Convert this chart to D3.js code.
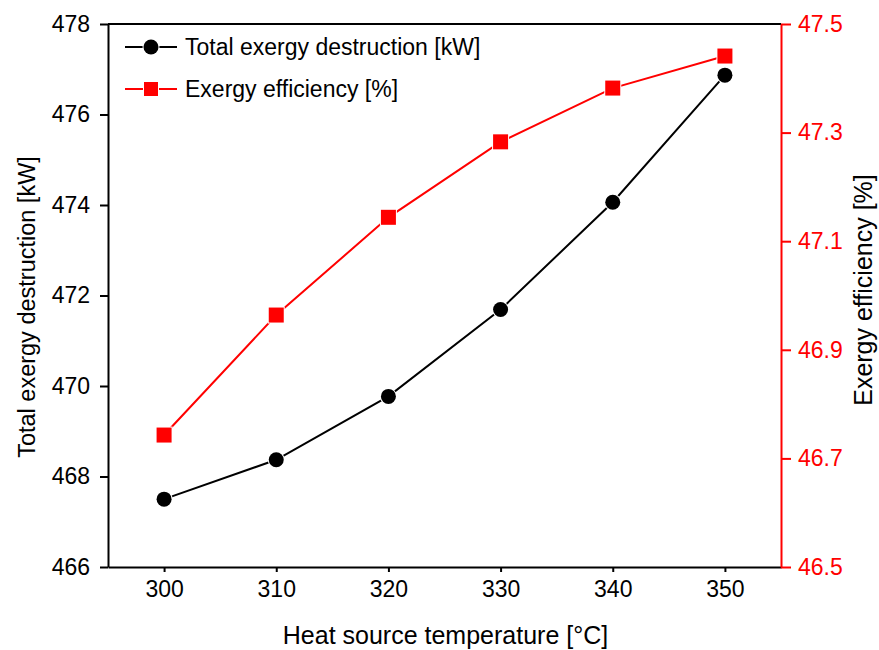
<!DOCTYPE html>
<html>
<head>
<meta charset="utf-8">
<script src="https://cdn.jsdelivr.net/npm/d3@7/dist/d3.min.js"></script>
<style>
  body { margin: 0; background: #fff; }
  svg { font-family: Arial, "Liberation Sans", sans-serif; }
</style>
</head>
<body>
<script>
// data
var temps = [300, 310, 320, 330, 340, 350]
var destruction = [467.50, 468.37, 469.77, 471.69, 474.06, 476.87]
var efficiency = [46.743, 46.964, 47.144, 47.283, 47.382, 47.441]
var leftTicks = [466, 468, 470, 472, 474, 476, 478]
var rightTicks = [46.5, 46.7, 46.9, 47.1, 47.3, 47.5]

var W = 879, H = 650
var m = {left: 108, right: 98, top: 24, bottom: 83}

var svg = d3.select('body').append('svg')
  .attr('width', W)
  .attr('height', H)

var x = d3.scaleLinear().domain([295, 355]).range([m.left, W - m.right])
var yL = d3.scaleLinear().domain([466, 478]).range([H - m.bottom, m.top])
var yR = d3.scaleLinear().domain([46.5, 47.5]).range([H - m.bottom, m.top])

// frame top
svg.append('line')
  .attr('x1', m.left).attr('x2', W - m.right)
  .attr('y1', m.top).attr('y2', m.top)
  .attr('stroke', '#000').attr('stroke-width', 2)

var gx = svg.append('g')
  .attr('transform', 'translate(0,' + (H - m.bottom) + ')')
  .call(d3.axisBottom(x).tickValues(temps).tickSize(5).tickPadding(9).tickSizeOuter(0))
var gl = svg.append('g')
  .attr('transform', 'translate(' + m.left + ',0)')
  .call(d3.axisLeft(yL).tickValues(leftTicks).tickSize(8).tickPadding(10).tickSizeOuter(0))
var gr = svg.append('g')
  .attr('transform', 'translate(' + (W - m.right) + ',0)')
  .call(d3.axisRight(yR).tickValues(rightTicks).tickFormat(d3.format('.1f')).tickSize(10).tickPadding(7).tickSizeOuter(0))

;[gx, gl].forEach(function(g) {
  g.selectAll('path, line').attr('stroke', '#000').attr('stroke-width', 2)
  g.selectAll('text').attr('fill', '#000').style('font-size', '23px')
})
gr.selectAll('path, line').attr('stroke', '#ff0000').attr('stroke-width', 2)
gr.selectAll('text').attr('fill', '#ff0000').style('font-size', '23px')
gr.select('path.domain').raise()

// axis titles
svg.append('text')
  .attr('x', (m.left + W - m.right) / 2 + 1).attr('y', 644)
  .attr('text-anchor', 'middle').style('font-size', '25px')
  .text('Heat source temperature [°C]')
svg.append('text')
  .attr('transform', 'translate(35,' + 307 + ') rotate(-90)')
  .attr('text-anchor', 'middle').style('font-size', '23.5px')
  .text('Total exergy destruction [kW]')
svg.append('text')
  .attr('transform', 'translate(872,' + 290 + ') rotate(-90)')
  .attr('text-anchor', 'middle').style('font-size', '25px')
  .text('Exergy efficiency [%]')

var lineL = d3.line().x(function(d, i) { return x(temps[i]) }).y(function(d) { return yL(d) })
var lineR = d3.line().x(function(d, i) { return x(temps[i]) }).y(function(d) { return yR(d) })

svg.append('path').datum(efficiency)
  .attr('d', lineR).attr('fill', 'none').attr('stroke', '#ff0000').attr('stroke-width', 2)
svg.append('path').datum(destruction)
  .attr('d', lineL).attr('fill', 'none').attr('stroke', '#000').attr('stroke-width', 2)

svg.selectAll('rect.eff').data(efficiency).enter().append('rect')
  .attr('class', 'eff')
  .attr('x', function(d, i) { return x(temps[i]) - 7.5 })
  .attr('y', function(d) { return yR(d) - 7.5 })
  .attr('width', 15).attr('height', 15)
  .attr('fill', '#ff0000').attr('stroke', '#fff').attr('stroke-width', 2)
  .attr('paint-order', 'stroke')

svg.selectAll('circle.des').data(destruction).enter().append('circle')
  .attr('class', 'des')
  .attr('cx', function(d, i) { return x(temps[i]) })
  .attr('cy', function(d) { return yL(d) })
  .attr('r', 7.5)
  .attr('fill', '#000').attr('stroke', '#fff').attr('stroke-width', 2)
  .attr('paint-order', 'stroke')

// legend
var legend = [
  {label: 'Total exergy destruction [kW]', color: '#000', shape: 'circle', y: 47},
  {label: 'Exergy efficiency [%]', color: '#ff0000', shape: 'square', y: 89}
]
legend.forEach(function(l) {
  var g = svg.append('g')
  g.append('line')
    .attr('x1', 125).attr('x2', 177).attr('y1', l.y).attr('y2', l.y)
    .attr('stroke', l.color).attr('stroke-width', 2)
  if (l.shape == 'circle') {
    g.append('circle').attr('cx', 151).attr('cy', l.y).attr('r', 7.5)
      .attr('fill', l.color).attr('stroke', '#fff').attr('stroke-width', 2).attr('paint-order', 'stroke')
  } else {
    g.append('rect').attr('x', 144).attr('y', l.y - 7).attr('width', 14).attr('height', 14)
      .attr('fill', l.color).attr('stroke', '#fff').attr('stroke-width', 2).attr('paint-order', 'stroke')
  }
  g.append('text').attr('x', 185).attr('y', l.y + 8)
    .style('font-size', '23px').attr('fill', '#000')
    .text(l.label)
})
</script>
</body>
</html>
